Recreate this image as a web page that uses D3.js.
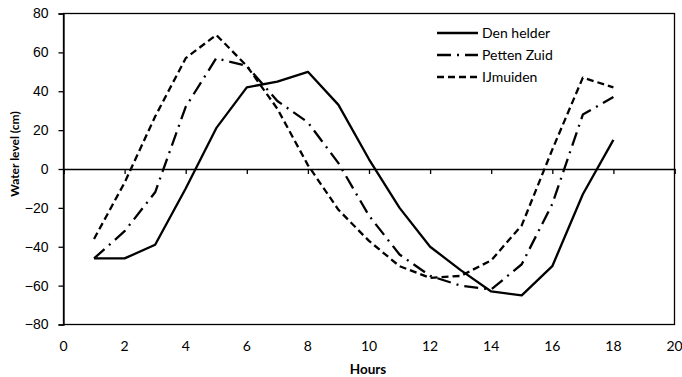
<!DOCTYPE html>
<html>
<head>
<meta charset="utf-8">
<script src="https://cdn.jsdelivr.net/npm/d3@7"></script>
<style>
  body { margin: 0; background: #fff; }
  svg { display: block; font-family: Lato, 'Open Sans', sans-serif; }
</style>
</head>
<body>
<script>
// Data
var hours = [1, 2, 3, 4, 5, 6, 7, 8, 9, 10, 11, 12, 13, 14, 15, 16, 17, 18];
var denHelder  = [-46, -46, -39, -10, 21, 42, 45, 50, 33, 5, -20, -40, -52, -63, -65, -50, -13, 15];
var pettenZuid = [-46, -32, -12, 32, 57, 53, 35, 24, 3, -24, -44, -55, -60, -62, -49, -18, 28, 37];
var ijmuiden   = [-36, -7, 27, 57, 69, 53, 31, 2, -21, -37, -50, -56, -55, -47, -29, 10, 47, 42];
var seriesNames = ['Den helder', 'Petten Zuid', 'IJmuiden'];
var xTicks = [0, 2, 4, 6, 8, 10, 12, 14, 16, 18, 20];
var yTicks = [-80, -60, -40, -20, 0, 20, 40, 60, 80];

var width = 682, height = 377;
var plotL = 63.5, plotR = 674.5, plotT = 13.5, plotB = 324.5;

var svg = d3.select('body').append('svg')
  .attr('width', width).attr('height', height);

var x = d3.scaleLinear().domain([0, 20]).range([plotL, plotR]);
var y = d3.scaleLinear().domain([-80, 80]).range([plotB, plotT]);

// plot area frame
svg.append('rect')
  .attr('x', plotL).attr('y', plotT)
  .attr('width', plotR - plotL).attr('height', plotB - plotT)
  .attr('fill', 'none').attr('stroke', '#000').attr('stroke-width', 1.3);

// y axis
var yAxis = d3.axisLeft(y).tickValues(yTicks).tickSize(5).tickPadding(10);
var gy = svg.append('g').attr('transform', 'translate(' + plotL + ',0)').call(yAxis);
gy.select('.domain').attr('stroke-width', 1.3);
gy.selectAll('.tick line').attr('stroke-width', 1.3);
gy.selectAll('text').style('font-size', '14px').style('font-family', null).attr('fill', '#000');

// x axis drawn on the zero line, labels at the bottom
var xAxis = d3.axisBottom(x).tickValues(xTicks).tickSize(5).tickFormat('');
var gx = svg.append('g').attr('transform', 'translate(0,' + y(0) + ')').call(xAxis);
gx.select('.domain').attr('stroke-width', 1.3);
gx.selectAll('.tick line').attr('stroke-width', 1.3);

svg.append('g').selectAll('text').data(xTicks).enter().append('text')
  .attr('x', function(d) { return x(d); })
  .attr('y', plotB + 26)
  .attr('text-anchor', 'middle')
  .style('font-size', '14px')
  .text(function(d) { return d; });

// axis titles
svg.append('text')
  .attr('x', (plotL + plotR) / 2 - 1).attr('y', 374)
  .attr('text-anchor', 'middle')
  .style('font-size', '13.5px').style('font-weight', 'bold')
  .text('Hours');

svg.append('text')
  .attr('transform', 'translate(19,154) rotate(-90)')
  .attr('text-anchor', 'middle')
  .style('font-size', '12px').style('font-weight', 'bold')
  .text('Water level (cm)');

// series
var dashes = ['none', '14,6,2,6', '7,4'];
var allSeries = [denHelder, pettenZuid, ijmuiden];
var line = d3.line()
  .x(function(d, i) { return x(hours[i]); })
  .y(function(d) { return y(d); });

for (var k = 0; k < allSeries.length; k++) {
  svg.append('path')
    .attr('d', line(allSeries[k]))
    .attr('fill', 'none')
    .attr('stroke', '#000')
    .attr('stroke-width', 2.3)
    .attr('stroke-linejoin', 'round')
    .attr('stroke-dasharray', dashes[k]);
}

// legend
var legend = svg.append('g');
for (var k = 0; k < seriesNames.length; k++) {
  var ly = 33 + k * 22;
  legend.append('line')
    .attr('x1', 437).attr('x2', 478)
    .attr('y1', ly).attr('y2', ly)
    .attr('stroke', '#000').attr('stroke-width', 2.3)
    .attr('stroke-dasharray', dashes[k]);
  legend.append('text')
    .attr('x', 482).attr('y', ly + 5)
    .style('font-size', '14px')
    .text(seriesNames[k]);
}
</script>
</body>
</html>
